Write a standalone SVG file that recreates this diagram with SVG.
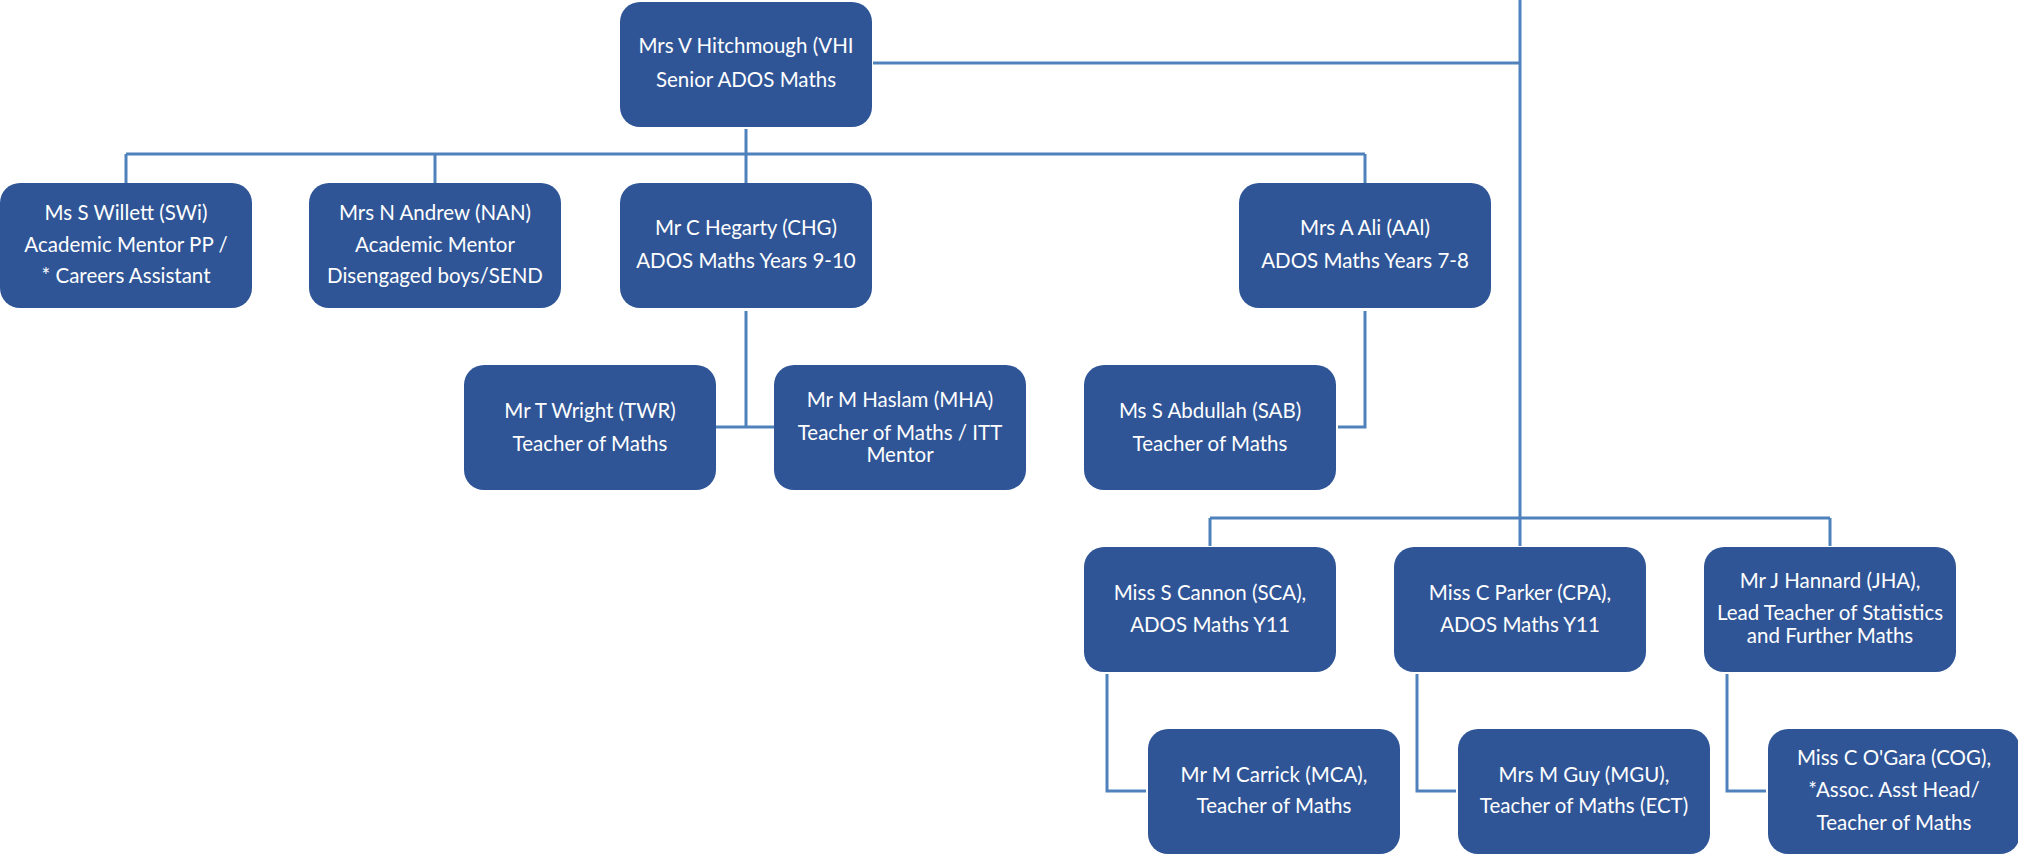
<svg xmlns="http://www.w3.org/2000/svg" width="2018" height="854" viewBox="0 0 2018 854">
<style>
.box{fill:#2F5597;}
.t{font-family:Lato,"Liberation Sans",sans-serif;font-size:20.5px;fill:#FFFFFF;text-anchor:middle;}
.c{fill:none;stroke:#4F81BD;stroke-width:3;}
</style>
<rect width="2018" height="854" fill="#FFFFFF"/>
<g id="connectors">
<path class="c" d="M873 63 H1520"/>
<path class="c" d="M1520 0 V546"/>
<path class="c" d="M126 154 H1365"/>
<path class="c" d="M126 154 V183 M435 154 V183 M746 129 V183 M1365 154 V183"/>
<path class="c" d="M746 311 V427 M716 427 H774"/>
<path class="c" d="M1365 311 V427 H1338"/>
<path class="c" d="M1210 518 H1830 M1210 518 V546 M1830 518 V546"/>
<path class="c" d="M1107 674 V791 H1146"/>
<path class="c" d="M1417 674 V791 H1456"/>
<path class="c" d="M1727 674 V791 H1766"/>
</g>
<g id="VHI"><rect class="box" x="620" y="2" width="252" height="125" rx="20"/>
<text class="t" x="746" y="53">Mrs V Hitchmough (VHI</text>
<text class="t" x="746" y="87">Senior ADOS Maths</text></g>
<g id="SWi"><rect class="box" x="0" y="183" width="252" height="125" rx="20"/>
<text class="t" x="126" y="220">Ms S Willett (SWi)</text>
<text class="t" x="126" y="252">Academic Mentor PP /</text>
<text class="t" x="126" y="283">* Careers Assistant</text></g>
<g id="NAN"><rect class="box" x="309" y="183" width="252" height="125" rx="20"/>
<text class="t" x="435" y="220">Mrs N Andrew (NAN)</text>
<text class="t" x="435" y="252">Academic Mentor</text>
<text class="t" x="435" y="283">Disengaged boys/SEND</text></g>
<g id="CHG"><rect class="box" x="620" y="183" width="252" height="125" rx="20"/>
<text class="t" x="746" y="235">Mr C Hegarty (CHG)</text>
<text class="t" x="746" y="268">ADOS Maths Years 9-10</text></g>
<g id="AAl"><rect class="box" x="1239" y="183" width="252" height="125" rx="20"/>
<text class="t" x="1365" y="235">Mrs A Ali (AAl)</text>
<text class="t" x="1365" y="268">ADOS Maths Years 7-8</text></g>
<g id="TWR"><rect class="box" x="464" y="365" width="252" height="125" rx="20"/>
<text class="t" x="590" y="418">Mr T Wright (TWR)</text>
<text class="t" x="590" y="451">Teacher of Maths</text></g>
<g id="MHA"><rect class="box" x="774" y="365" width="252" height="125" rx="20"/>
<text class="t" x="900" y="407">Mr M Haslam (MHA)</text>
<text class="t" x="900" y="440">Teacher of Maths / ITT</text>
<text class="t" x="900" y="462">Mentor</text></g>
<g id="SAB"><rect class="box" x="1084" y="365" width="252" height="125" rx="20"/>
<text class="t" x="1210" y="418">Ms S Abdullah (SAB)</text>
<text class="t" x="1210" y="451">Teacher of Maths</text></g>
<g id="SCA"><rect class="box" x="1084" y="547" width="252" height="125" rx="20"/>
<text class="t" x="1210" y="600">Miss S Cannon (SCA),</text>
<text class="t" x="1210" y="632">ADOS Maths Y11</text></g>
<g id="CPA"><rect class="box" x="1394" y="547" width="252" height="125" rx="20"/>
<text class="t" x="1520" y="600">Miss C Parker (CPA),</text>
<text class="t" x="1520" y="632">ADOS Maths Y11</text></g>
<g id="JHA"><rect class="box" x="1704" y="547" width="252" height="125" rx="20"/>
<text class="t" x="1830" y="588">Mr J Hannard (JHA),</text>
<text class="t" x="1830" y="620">Lead Teacher of Statistics</text>
<text class="t" x="1830" y="643">and Further Maths</text></g>
<g id="MCA"><rect class="box" x="1148" y="729" width="252" height="125" rx="20"/>
<text class="t" x="1274" y="782">Mr M Carrick (MCA),</text>
<text class="t" x="1274" y="813">Teacher of Maths</text></g>
<g id="MGU"><rect class="box" x="1458" y="729" width="252" height="125" rx="20"/>
<text class="t" x="1584" y="782">Mrs M Guy (MGU),</text>
<text class="t" x="1584" y="813">Teacher of Maths (ECT)</text></g>
<g id="COG"><rect class="box" x="1768" y="729" width="252" height="125" rx="20"/>
<text class="t" x="1894" y="765">Miss C O'Gara (COG),</text>
<text class="t" x="1894" y="797">*Assoc. Asst Head/</text>
<text class="t" x="1894" y="830">Teacher of Maths</text></g>
</svg>
